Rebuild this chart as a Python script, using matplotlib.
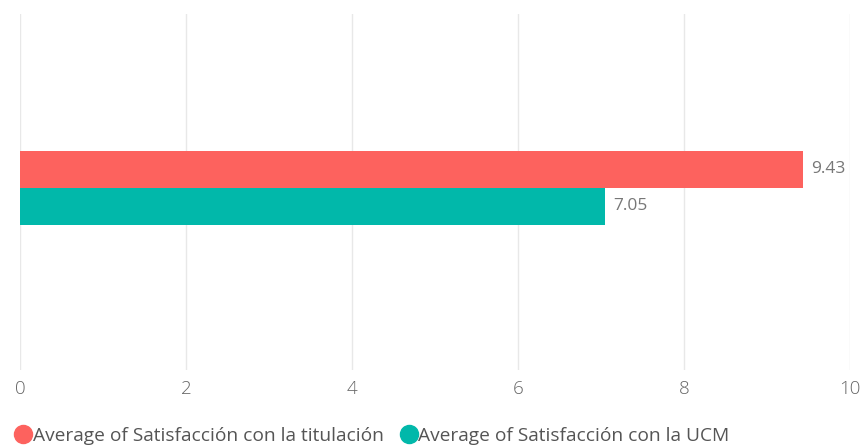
import matplotlib.pyplot as plt
from matplotlib.lines import Line2D

series = ["Average of Satisfacción con la titulación", "Average of Satisfacción con la UCM"]
values = [9.43, 7.05]
colors = ["#FD625E", "#01B8AA"]
xticks = [0, 2, 4, 6, 8, 10]

plt.rcParams["font.family"] = ["Open Sans", "DejaVu Sans"]

fig = plt.figure(figsize=(8.67, 4.48), dpi=100)
ax = fig.add_axes([20 / 867, 1 - 370 / 448, 830 / 867, 356 / 448])

ypos = [0.25, -0.25]
for y, v, c in zip(ypos, values, colors):
    ax.barh(y, v, height=0.5, color=c, zorder=3)
    ax.text(v + 0.1, y, f"{v:.2f}", va="center", ha="left",
            fontsize=12.5, color="#777777", zorder=4)

ax.set_xlim(0, 10)
ax.set_ylim(-2.46, 2.35)
ax.set_xticks(xticks)
ax.set_xticklabels([str(t) for t in xticks], fontsize=13.5, color="#666666",
                   fontweight="light")
ax.set_yticks([])
ax.tick_params(axis="x", length=0, pad=7)
ax.grid(axis="x", color="#E8E8E8", linewidth=1, zorder=0)
for s in ax.spines.values():
    s.set_visible(False)

handles = [Line2D([], [], marker="o", linestyle="", markersize=13,
                  markerfacecolor=c, markeredgecolor=c) for c in colors]
fig.legend(handles, series, loc="center left",
           bbox_to_anchor=(10 / 867, 1 - 436 / 448),
           ncol=2, frameon=False, fontsize=13.8, handletextpad=0.0,
           columnspacing=0.8, labelcolor="#555555", borderaxespad=0.2,
           borderpad=0.0, handlelength=1.0)

fig.savefig("out.png", dpi=100)
